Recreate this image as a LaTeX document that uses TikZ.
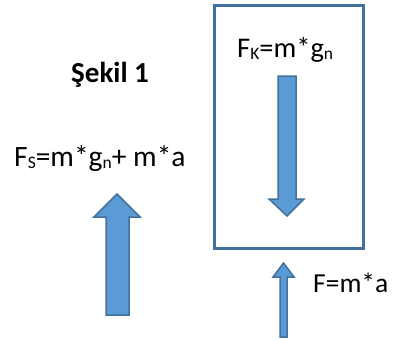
\documentclass[tikz,border=0pt]{standalone}
\usepackage{fontspec}
\setmainfont{Carlito}
\newcommand\mysub[1]{\raisebox{-0.2ex}{\fontsize{17.5}{18}\selectfont #1}}
\begin{document}
\begin{tikzpicture}[x=1pt,y=-1pt,
  lbl/.style={inner sep=0pt,anchor=base west,font=\fontsize{27.5}{30}\selectfont},
  blk/.style={fill=arrfill,draw=arrline,line width=1.5pt,line join=miter},
  frame/.style={draw=arrline,line width=3pt}]
\definecolor{arrfill}{HTML}{5B9BD5}
\definecolor{arrline}{HTML}{41719C}
\useasboundingbox (0,0) rectangle (396,340);
\draw[frame] (214,5) rectangle (363,248);
\node[lbl,font=\fontsize{28.5}{30}\selectfont] (fk) at (237,57) {F\mysub{K}=m*g\mysub{n}};
\node[lbl,font=\fontsize{29}{32}\selectfont\bfseries] (sekil) at (71,82) {Şekil 1};
\node[lbl,font=\fontsize{29.5}{30}\selectfont] (fs) at (14,166) {F\mysub{S}=m*g\mysub{n}+ m*a};
\node[lbl] (fa) at (313,292) {F=m*a};
\draw[blk] (278,76) -- (296,76) -- (296,199) -- (304,199) -- (287,216) -- (269,199) -- (278,199) -- cycle;
\draw[blk] (106,315) -- (129,315) -- (129,217) -- (140,217) -- (117,194) -- (94,217) -- (106,217) -- cycle;
\draw[blk] (280,337) -- (287,337) -- (287,277) -- (294,277) -- (283.5,263) -- (273,277) -- (280,277) -- cycle;
\end{tikzpicture}
\end{document}
